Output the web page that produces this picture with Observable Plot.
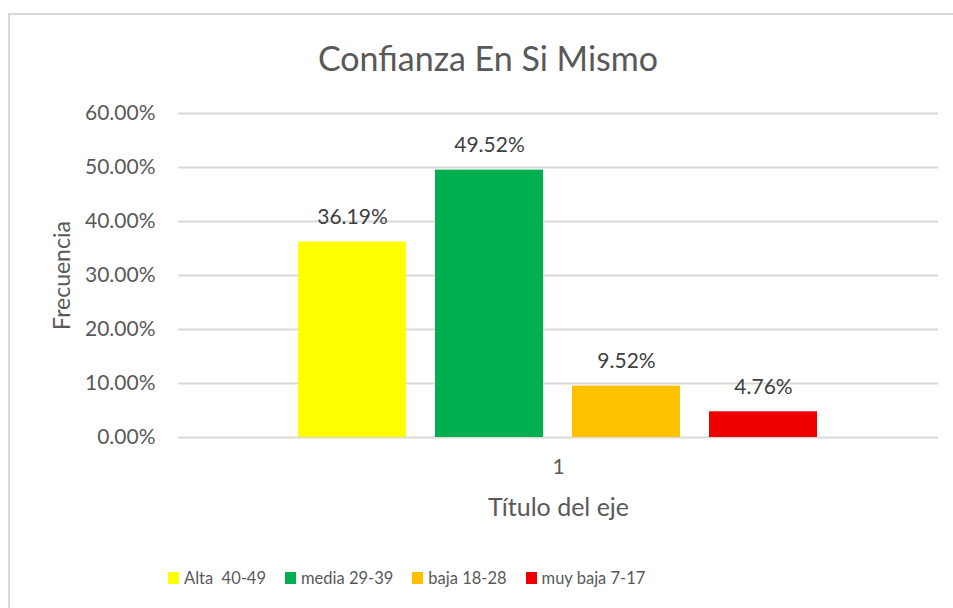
<!DOCTYPE html>
<html>
<head>
<meta charset="utf-8">
<script src="https://cdn.jsdelivr.net/npm/d3@7"></script>
<script src="https://cdn.jsdelivr.net/npm/@observablehq/plot@0.6"></script>
<style>
  html, body { margin: 0; padding: 0; background: #fff; }
  body { width: 953px; height: 608px; position: relative; overflow: hidden; font-family: Lato, sans-serif; color: #595959; }
  #frame { position: absolute; left: 8px; top: 13px; width: 960px; height: 610px; border: 2px solid #d9d9d9; box-sizing: border-box; }
  #title { position: absolute; left: 0; width: 976px; top: 36px; line-height: 44px; text-align: center; font-size: 34px; color: #595959; }
  #chart { position: absolute; left: 0; top: 90px; }
  #legend { position: absolute; left: 168px; top: 566px; height: 24px; display: flex; align-items: center; font-size: 16.5px; color: #595959; }
  .item { display: flex; align-items: center; white-space: pre; }
  .sw { width: 11px; height: 12px; margin-right: 5px; }
</style>
</head>
<body>
<div id="frame"></div>
<div id="title">Confianza En Si Mismo</div>
<div id="chart"></div>
<div id="legend"></div>
<script>
const categories = ["1"];
const series = ["Alta  40-49", "media 29-39", "baja 18-28", "muy baja 7-17"];
const values = [0.3619, 0.4952, 0.0952, 0.0476];
const yTicks = [0, 0.1, 0.2, 0.3, 0.4, 0.5, 0.6];
const xTitle = "Título del eje";
const yTitle = "Frecuencia";

const data = series.map((s, i) => ({cat: categories[0], series: s, value: values[i]}));
const palette = ["#FFFF00", "#00B050", "#FFC000", "#EE0000"];
const fmt = d3.format(".2%");

const chart = Plot.plot({
  width: 953,
  height: 440,
  marginLeft: 178,
  marginRight: 15,
  marginTop: 23,
  marginBottom: 93,
  style: {fontFamily: "Lato, sans-serif", fontSize: "21px", color: "#595959", background: "transparent", overflow: "visible"},
  fx: {domain: categories, padding: 0, label: null},
  x: {domain: series, paddingInner: 0.21, paddingOuter: 0.86, axis: null},
  y: {domain: [0, 0.6], label: null},
  color: {domain: series, range: palette},
  marks: [
    Plot.gridY(yTicks, {stroke: "#d9d9d9", strokeOpacity: 1, strokeWidth: 2}),
    Plot.axisY(yTicks, {tickFormat: fmt, tickSize: 0, tickPadding: 23, fontSize: 21, fill: "#595959", label: null}),
    Plot.axisFx({anchor: "bottom", tickSize: 0, tickPadding: 22, fontSize: 21, fill: "#595959", label: null}),
    Plot.barY(data, {fx: "cat", x: "series", y: "value", fill: "series"}),
    Plot.text(data, {fx: "cat", x: "series", y: "value", text: d => fmt(d.value), dy: -25, fontSize: 21, fill: "#404040"}),
    Plot.text([xTitle], {frameAnchor: "bottom", lineAnchor: "middle", dy: 70, fontSize: 25, fill: "#595959", facetAnchor: null}),
    Plot.text([yTitle], {frameAnchor: "left", textAnchor: "middle", lineAnchor: "middle", dx: -116, rotate: -90, fontSize: 23, fill: "#595959", facetAnchor: null})
  ]
});
document.getElementById("chart").appendChild(chart);

const legend = d3.select("#legend");
series.forEach((s, i) => {
  const it = legend.append("div").attr("class", "item").style("margin-right", i < series.length - 1 ? "19px" : "0");
  it.append("div").attr("class", "sw").style("background", palette[i]);
  it.append("span").text(s);
});
</script>
</body>
</html>
